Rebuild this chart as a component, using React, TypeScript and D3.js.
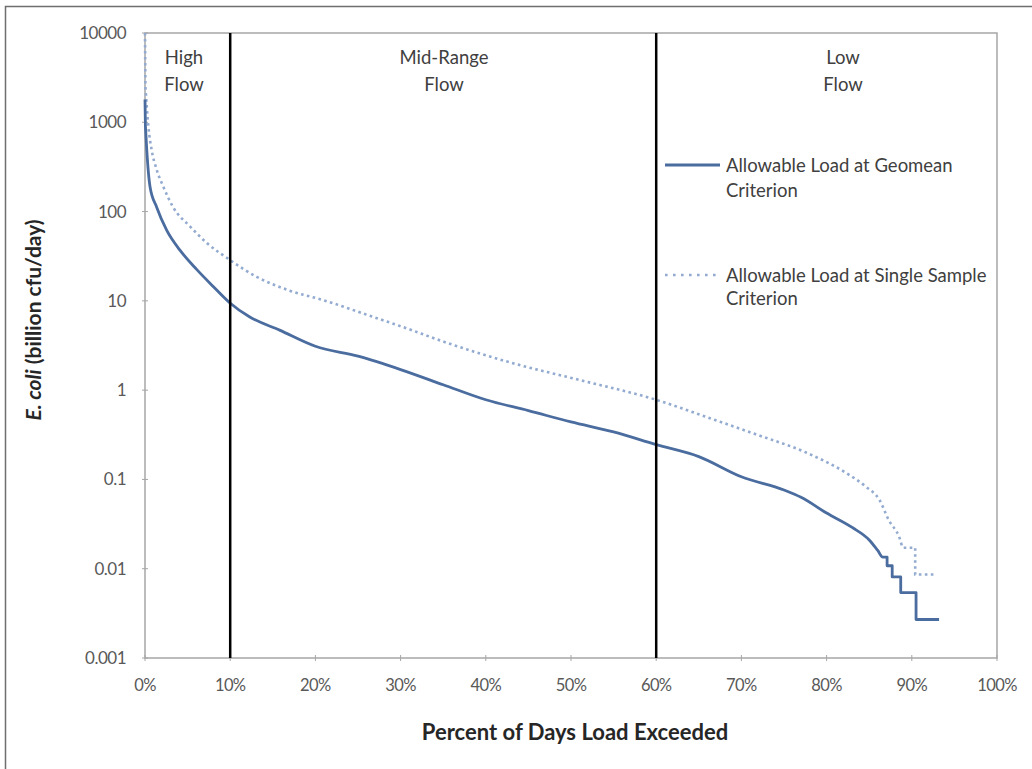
import React from "react";
import * as d3 from "d3";

const pctGeomean = [0, 0.05, 0.2, 0.59, 1.37, 2.54, 4.1, 6.06, 8.0, 9.9, 12.3, 15.8, 20, 25, 30, 35, 40, 45, 50, 55, 60, 65, 70, 75, 77, 80, 83, 85, 86, 86.6, 87.1, 87.1, 87.7, 87.7, 88.7, 88.7, 90.5, 90.5, 93.2];
const valGeomean = [1800, 900, 500, 190, 112, 62, 37, 22.5, 14.5, 9.6, 6.6, 4.7, 3.1, 2.4, 1.7, 1.15, 0.78, 0.59, 0.44, 0.34, 0.245, 0.18, 0.107, 0.076, 0.063, 0.042, 0.029, 0.021, 0.016, 0.0135, 0.0135, 0.0108, 0.0108, 0.0081, 0.0081, 0.0054, 0.0054, 0.0027, 0.0027];

const pctSingle = [0, 0.05, 0.4, 0.78, 1.37, 2.15, 3.3, 5.3, 7.2, 9.9, 13.1, 17, 20.9, 26.8, 30, 35.4, 43.2, 51, 60, 65.9, 71.7, 77.6, 82.3, 84.6, 86.2, 87.3, 88.5, 89.0, 90.4, 90.4, 92.8];
const valSingle = [10000, 2500, 890, 490, 295, 190, 112, 68, 45, 29, 18.6, 13, 10.2, 6.6, 5.2, 3.4, 2.0, 1.3, 0.78, 0.5, 0.32, 0.2, 0.118, 0.083, 0.059, 0.035, 0.023, 0.0172, 0.0172, 0.0086, 0.0086];

const yTicks = [0.001, 0.01, 0.1, 1, 10, 100, 1000, 10000];
const yTickLabels = ["0.001", "0.01", "0.1", "1", "10", "100", "1000", "10000"];
const xTicks = [0, 10, 20, 30, 40, 50, 60, 70, 80, 90, 100];
const flowBoundaries = [10, 60];
const flowZones = [
  { from: 0, to: 10, lines: ["High", "Flow"] },
  { from: 10, to: 60, lines: ["Mid-Range", "Flow"] },
  { from: 60, to: 100, lines: ["Low", "Flow"] },
];
const seriesNames = ["Allowable Load at Geomean", "Allowable Load at Single Sample"];

const FONT = "Lato, 'Open Sans', sans-serif";

export default function App() {
  const W = 1032, H = 769;
  const left = 145, right = 997, top = 33, bottom = 658;
  const x = d3.scaleLinear().domain([0, 100]).range([left, right]);
  const y = d3.scaleLog().domain([0.001, 10000]).range([bottom, top]);

  // split each series into a smooth part (strictly increasing x) and a stepped tail
  const buildPath = (ps: number[], vs: number[]) => {
    const pts: [number, number][] = ps.map((p, i) => [p, vs[i]]);
    let cut = pts.length;
    for (let i = 1; i < pts.length; i++) {
      if (pts[i][0] === pts[i - 1][0] && i > 1) { cut = i - 1; break; }
    }
    const smooth = d3.line<[number, number]>().x((d) => x(d[0])).y((d) => y(d[1])).curve(d3.curveMonotoneX);
    const straight = d3.line<[number, number]>().x((d) => x(d[0])).y((d) => y(d[1]));
    const head = pts.slice(1, cut + 1);
    const tail = pts.slice(cut);
    const first = `M${x(pts[0][0])},${y(pts[0][1])}L${x(head[0][0])},${y(head[0][1])}`;
    const headD = smooth(head)!.replace(/^M[^LC]*/, "");
    const tailD = tail.length > 1 ? straight(tail)!.replace(/^M[^L]*/, "") : "";
    return first + headD + tailD;
  };
  const geoPath = buildPath(pctGeomean, valGeomean);
  const singlePath = buildPath(pctSingle, valSingle);
  const solidColor = "#4a6c9f";
  const dotColor = "#93abd0";
  const zoneX = [184, 444, 843];

  return (
    <svg width={W} height={H} style={{ position: "absolute", left: 0, top: 0, background: "#fff" }} fontFamily={FONT}>
      <rect x={5.5} y={6.5} width={1100} height={1000} fill="none" stroke="#6e6e6e" strokeWidth={1.5} />
      <rect x={left} y={top} width={right - left} height={bottom - top} fill="none" stroke="#a6a6a6" strokeWidth={1.5} />
      {xTicks.map((t) => (
        <g key={t}>
          <line x1={x(t)} x2={x(t)} y1={bottom - 3} y2={bottom + 3} stroke="#a6a6a6" strokeWidth={1} />
          <text x={x(t)} y={691} textAnchor="middle" fontSize={16.5} fill="#595959" letterSpacing={-0.6}>
            {t + "%"}
          </text>
        </g>
      ))}
      {yTicks.map((t, i) => (
        <g key={t}>
          <line x1={left - 3} x2={left + 3} y1={y(t)} y2={y(t)} stroke="#a6a6a6" strokeWidth={1} />
          <text x={126} y={y(t) + 6} textAnchor="end" fontSize={17} fill="#595959" letterSpacing={-0.5}>
            {yTickLabels[i]}
          </text>
        </g>
      ))}
      <path d={singlePath} fill="none" stroke={dotColor} strokeWidth={2.6} strokeDasharray="2.6 3.4" />
      <path d={geoPath} fill="none" stroke={solidColor} strokeWidth={2.8} strokeLinejoin="round" />
      {flowBoundaries.map((b) => (
        <line key={b} x1={x(b)} x2={x(b)} y1={top} y2={bottom} stroke="#000" strokeWidth={2.5} />
      ))}
      {flowZones.map((z, i) => (
        <text key={i} textAnchor="middle" fontSize={18.5} fill="#404040">
          <tspan x={zoneX[i]} y={64}>{z.lines[0]}</tspan>
          <tspan x={zoneX[i]} y={91}>{z.lines[1]}</tspan>
        </text>
      ))}
      <line x1={665} x2={720} y1={165} y2={165} stroke={solidColor} strokeWidth={2.8} />
      <text fontSize={18.5} fill="#404040">
        <tspan x={726} y={172}>{seriesNames[0]}</tspan>
        <tspan x={726} y={197}>Criterion</tspan>
      </text>
      <line x1={665} x2={720} y1={275} y2={275} stroke={dotColor} strokeWidth={2.6} strokeDasharray="2.6 5.4" />
      <text fontSize={18.5} fill="#404040">
        <tspan x={726} y={282}>{seriesNames[1]}</tspan>
        <tspan x={726} y={305}>Criterion</tspan>
      </text>
      <text x={575} y={740} textAnchor="middle" fontSize={22} fontWeight="bold" fill="#262626">
        Percent of Days Load Exceeded
      </text>
      <text transform={`translate(41, 320) rotate(-90)`} textAnchor="middle" fontSize={21} fontWeight="bold" fill="#262626">
        <tspan fontStyle="italic">E. coli</tspan> (billion cfu/day)
      </text>
    </svg>
  );
}
